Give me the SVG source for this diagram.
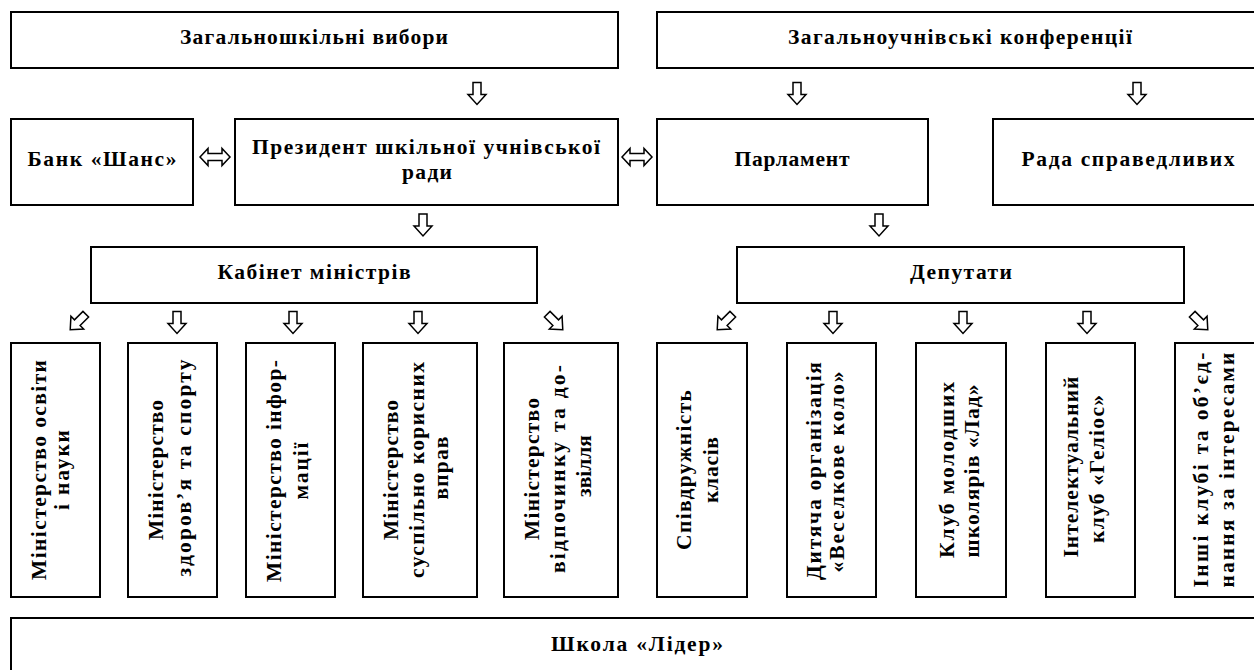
<svg xmlns="http://www.w3.org/2000/svg" xmlns:xlink="http://www.w3.org/1999/xlink" width="1254" height="670" viewBox="0 0 1254 670">
<style>
.box{fill:#fff;stroke:#000;stroke-width:2}
.t{font-family:"Liberation Serif","Times New Roman",serif;font-weight:bold;font-size:21.5px;fill:#000;text-anchor:middle}
.ar{fill:#fff;stroke:#000;stroke-width:1.5;stroke-linejoin:miter}
</style>
<defs>
<path id="ad" d="M-4,-11 H4 V1 H9 L0,11 L-9,1 H-4 Z"/>
<path id="alr" d="M-15,0 L-7,-8.5 V-3.5 H7 V-8.5 L15,0 L7,8.5 V3.5 H-7 V8.5 Z"/>
</defs>
<rect width="1254" height="670" fill="#fff"/>

<g id="connectors" class="ar">
<use xlink:href="#ad" transform="translate(477,93.5)"/>
<use xlink:href="#ad" transform="translate(797,93.5)"/>
<use xlink:href="#ad" transform="translate(1137,93.5)"/>
<use xlink:href="#alr" transform="translate(215,157)"/>
<use xlink:href="#alr" transform="translate(637,157)"/>
<use xlink:href="#ad" transform="translate(423,225)"/>
<use xlink:href="#ad" transform="translate(879,225)"/>
<use xlink:href="#ad" transform="translate(78,322) rotate(45)"/>
<use xlink:href="#ad" transform="translate(177,322.5)"/>
<use xlink:href="#ad" transform="translate(293,322.5)"/>
<use xlink:href="#ad" transform="translate(418,322.5)"/>
<use xlink:href="#ad" transform="translate(555,322) rotate(-45)"/>
<use xlink:href="#ad" transform="translate(725,322) rotate(45)"/>
<use xlink:href="#ad" transform="translate(833,322.5)"/>
<use xlink:href="#ad" transform="translate(963,322.5)"/>
<use xlink:href="#ad" transform="translate(1087,322.5)"/>
<use xlink:href="#ad" transform="translate(1200,322) rotate(-45)"/>
</g>

<g id="vybory"><rect class="box" x="11" y="12" width="607" height="56"/><text class="t" x="314" y="44" textLength="268">Загальношкільні вибори</text></g>
<g id="konferentsii"><rect class="box" x="657" y="12" width="610" height="56"/><text class="t" x="960" y="44" textLength="344">Загальноучнівські конференції</text></g>
<g id="bank"><rect class="box" x="11" y="119" width="182" height="86"/><text class="t" x="102" y="166" textLength="149">Банк «Шанс»</text></g>
<g id="president"><rect class="box" x="235" y="119" width="383" height="86"/><text class="t" x="426" y="154" textLength="348">Президент шкільної учнівської</text><text class="t" x="427" y="179" textLength="50">ради</text></g>
<g id="parlament"><rect class="box" x="657" y="119" width="271" height="86"/><text class="t" x="792" y="166" textLength="115">Парламент</text></g>
<g id="rada"><rect class="box" x="993" y="119" width="272" height="86"/><text class="t" x="1128" y="166" textLength="213">Рада справедливих</text></g>
<g id="kabinet"><rect class="box" x="91" y="247" width="446" height="56"/><text class="t" x="314" y="279" textLength="193">Кабінет міністрів</text></g>
<g id="deputaty"><rect class="box" x="737" y="247" width="447" height="56"/><text class="t" x="961" y="279" textLength="102">Депутати</text></g>

<g id="m1"><rect class="box" x="11" y="343" width="89" height="254"/>
<text class="t" transform="rotate(-90)" x="-470" y="46" textLength="220">Міністерство освіти</text>
<text class="t" transform="rotate(-90)" x="-470" y="69" textLength="80">і науки</text></g>
<g id="m2"><rect class="box" x="128" y="343" width="89" height="254"/>
<text class="t" transform="rotate(-90)" x="-470" y="163" textLength="140">Міністерство</text>
<text class="t" transform="rotate(-90)" x="-468" y="191" textLength="217">здоров’я та спорту</text></g>
<g id="m3"><rect class="box" x="246" y="343" width="89" height="254"/>
<text class="t" transform="rotate(-90)" x="-471" y="281" textLength="222">Міністерство інфор-</text>
<text class="t" transform="rotate(-90)" x="-471" y="308" textLength="57">мації</text></g>
<g id="m4"><rect class="box" x="363" y="343" width="114" height="254"/>
<text class="t" transform="rotate(-90)" x="-470" y="398" textLength="140">Міністерство</text>
<text class="t" transform="rotate(-90)" x="-470" y="424" textLength="216">суспільно корисних</text>
<text class="t" transform="rotate(-90)" x="-468" y="448" textLength="63">вправ</text></g>
<g id="m5"><rect class="box" x="504" y="343" width="114" height="254"/>
<text class="t" transform="rotate(-90)" x="-469" y="539" textLength="142">Міністерство</text>
<text class="t" transform="rotate(-90)" x="-469" y="565" textLength="208">відпочинку та до-</text>
<text class="t" transform="rotate(-90)" x="-466" y="591" textLength="62">звілля</text></g>
<g id="d1"><rect class="box" x="657" y="343" width="90" height="254"/>
<text class="t" transform="rotate(-90)" x="-470" y="691" textLength="160">Співдружність</text>
<text class="t" transform="rotate(-90)" x="-470" y="718" textLength="66">класів</text></g>
<g id="d2"><rect class="box" x="787" y="343" width="89" height="254"/>
<text class="t" transform="rotate(-90)" x="-471" y="821" textLength="218">Дитяча організація</text>
<text class="t" transform="rotate(-90)" x="-472" y="844" textLength="201">«Веселкове коло»</text></g>
<g id="d3"><rect class="box" x="916" y="343" width="90" height="254"/>
<text class="t" transform="rotate(-90)" x="-470" y="954" textLength="176">Клуб молодших</text>
<text class="t" transform="rotate(-90)" x="-471" y="979" textLength="173">школярів «Лад»</text></g>
<g id="d4"><rect class="box" x="1046" y="343" width="89" height="254"/>
<text class="t" transform="rotate(-90)" x="-467" y="1078" textLength="181">Інтелектуальний</text>
<text class="t" transform="rotate(-90)" x="-469" y="1104" textLength="148">клуб «Геліос»</text></g>
<g id="d5"><rect class="box" x="1175" y="343" width="90" height="254"/>
<text class="t" transform="rotate(-90)" x="-470" y="1208" textLength="235">Інші клубі та об’єд-</text>
<text class="t" transform="rotate(-90)" x="-470" y="1234" textLength="235">нання за інтересами</text></g>

<g id="lider"><rect class="box" x="11" y="618" width="1254" height="62"/><text class="t" x="637" y="651" textLength="172">Школа «Лідер»</text></g>
</svg>
